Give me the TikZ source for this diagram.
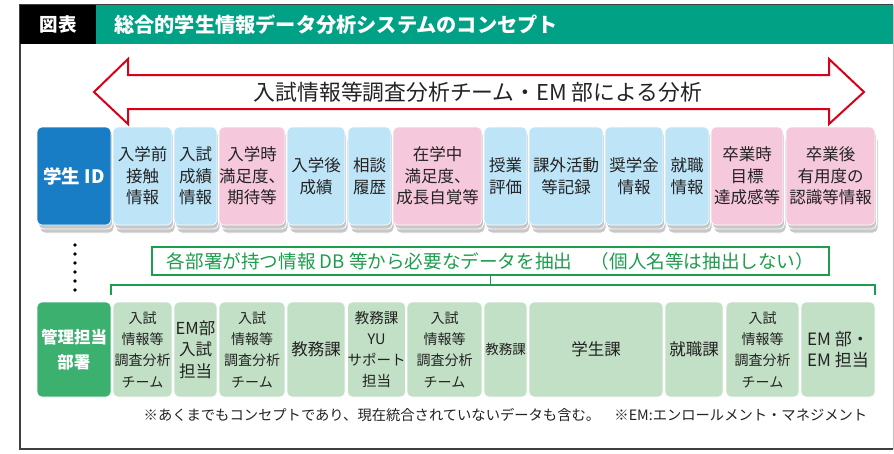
\documentclass[tikz,border=0pt]{standalone}
\usepackage{fontspec}
\setmainfont{Noto Sans CJK JP}
\usetikzlibrary{shadows}
\definecolor{ttl}{RGB}{0,161,132}
\definecolor{idblue}{RGB}{24,125,196}
\definecolor{lblue}{RGB}{190,228,248}
\definecolor{lpink}{RGB}{246,200,220}
\definecolor{mgreen}{RGB}{60,176,110}
\definecolor{lgreen}{RGB}{194,224,197}
\definecolor{grn}{RGB}{28,158,78}
\definecolor{arrred}{RGB}{218,0,24}
\definecolor{txt}{RGB}{35,35,35}
\tikzset{
  cell/.style={rounded corners=5pt, draw=white, line width=0.6pt, align=center, inner sep=0pt, text=txt},
  toprow/.style={cell, minimum height=98pt, font=\fontsize{16.5}{21.7}\selectfont,
    double copy shadow={shadow xshift=1.5pt, shadow yshift=-4pt, fill=black!22, draw=white, line width=0.8pt}},
  botrow/.style={cell, minimum height=95pt, fill=lgreen, font=\fontsize{14}{21.3}\selectfont},
  bl/.style={toprow, fill=lblue},
  pk/.style={toprow, fill=lpink},
  big/.style={font=\fontsize{16.5}{21.3}\selectfont},
}
\begin{document}
\begin{tikzpicture}[x=1pt,y=-1pt]
\useasboundingbox (0,0) rectangle (894,453);
\fill[white] (0,0) rectangle (894,453);
% frame
\draw[black!75, line width=1.2pt] (893,5) -- (20,5) -- (20,449) -- (893,449);
\draw[black!25, line width=0.8pt] (893,5) -- (893,449);
% title
\node[fill=black, minimum width=76pt, minimum height=39pt, inner sep=0pt, anchor=north west] (hd) at (20,5) {};
\node[text=white, font=\bfseries\fontsize{18.5}{18.5}\selectfont] (hdt) at (hd.center) {図表};
\node[fill=ttl, minimum width=797pt, minimum height=39pt, inner sep=0pt, anchor=north west] (bar) at (96,5) {};
\node[anchor=west, text=white, inner sep=0pt, font=\bfseries\fontsize{20.2}{20.2}\selectfont] (ttext) at (114,24.5) {総合的学生情報データ分析システムのコンセプト};
% double arrow
\draw[arrred, line width=2pt, fill=white, line join=miter]
  (94,92) -- (128,59) -- (128,75) -- (829,75) -- (829,59) -- (864,92) -- (829,124) -- (829,109) -- (128,109) -- (128,124) -- cycle;
\node[text=txt, font=\fontsize{21.8}{21.8}\selectfont] (atext) at (478,92) {入試情報等調査分析チーム・EM 部による分析};
% top row
\node[toprow, fill=idblue, text=white, minimum width=74pt, font=\bfseries\fontsize{18.5}{20}\selectfont] (id) at (74,176) {学生 ID};
\node[bl, minimum width=59pt] (t1) at (142.5,176) {入学前\\接触\\情報};
\node[bl, minimum width=43pt] (t2) at (195.5,176) {入試\\成績\\情報};
\node[pk, minimum width=66pt] (t3) at (252,176) {入学時\\満足度、\\期待等};
\node[bl, minimum width=58pt] (t4) at (316,176) {入学後\\成績};
\node[bl, minimum width=43pt] (t5) at (369.5,176) {相談\\履歴};
\node[pk, minimum width=89pt] (t6) at (437.5,176) {在学中\\満足度、\\成長自覚等};
\node[bl, minimum width=43pt] (t7) at (505.5,176) {授業\\評価};
\node[bl, minimum width=74pt] (t8) at (566,176) {課外活動\\等記録};
\node[bl, minimum width=58pt] (t9) at (634,176) {奨学金\\情報};
\node[bl, minimum width=44pt] (t10) at (687,176) {就職\\情報};
\node[pk, minimum width=72pt] (t11) at (747,176) {卒業時\\目標\\達成感等};
\node[pk, minimum width=89pt] (t12) at (830.5,176) {卒業後\\有用度の\\認識等情報};
% dots
\foreach \i in {0,...,5} \fill[black] (75,245+9*\i) circle[radius=1.8pt];
% extraction box
\node[draw=grn, line width=1.4pt, minimum width=677pt, minimum height=28pt, inner sep=0pt, text=grn, font=\fontsize{18.6}{18.6}\selectfont] (ext) at (490.5,261) {各部署が持つ情報 DB 等から必要なデータを抽出　（個人名等は抽出しない）};
\coordinate (bjn) at (ext.south |- 0,285);
\coordinate (bkl) at (111,295);
\coordinate (bkr) at (875,295);
\draw[grn, line width=1.6pt] (ext.south) -- (bjn);
\draw[grn, line width=1.6pt] (bkl) -- (bkl |- bjn) -- (bkr |- bjn) -- (bkr);
% bottom row
\node[cell, minimum height=95pt, fill=mgreen, text=white, minimum width=74pt, font=\bfseries\fontsize{16.5}{25}\selectfont] (mg) at (74,349.5) {管理担当\\部署};
\node[botrow, minimum width=59pt] (b1) at (142.5,349.5) {入試\\情報等\\調査分析\\チーム};
\node[botrow, big, minimum width=43pt] (b2) at (195.5,349.5) {EM部\\入試\\担当};
\node[botrow, minimum width=66pt] (b3) at (252,349.5) {入試\\情報等\\調査分析\\チーム};
\node[botrow, minimum width=58pt, font=\fontsize{16.5}{20}\selectfont] (b4) at (316,349.5) {教務課};
\node[botrow, minimum width=57pt, font=\fontsize{14.5}{21.3}\selectfont] (b5) at (376.5,349.5) {教務課\\YU\\サポート\\担当};
\node[botrow, minimum width=75pt] (b6) at (444.5,349.5) {入試\\情報等\\調査分析\\チーム};
\node[botrow, minimum width=43pt, font=\fontsize{13.5}{16}\selectfont] (b7) at (505.5,349.5) {教務課};
\node[botrow, minimum width=134pt, font=\fontsize{16.5}{20}\selectfont] (b8) at (596,349.5) {学生課};
\node[botrow, minimum width=58pt, font=\fontsize{16.5}{20}\selectfont] (b9) at (694,349.5) {就職課};
\node[botrow, minimum width=73pt] (b10) at (762.5,349.5) {入試\\情報等\\調査分析\\チーム};
\node[botrow, minimum width=74pt, font=\fontsize{17}{21.3}\selectfont] (b11) at (838,349.5) {EM 部・\\EM 担当};
% footnote
\node[text=txt, font=\fontsize{14.3}{14.3}\selectfont] (note) at (505.5,415) {※あくまでもコンセプトであり、現在統合されていないデータも含む。\quad ※EM:エンロールメント・マネジメント};
\end{tikzpicture}
\end{document}
